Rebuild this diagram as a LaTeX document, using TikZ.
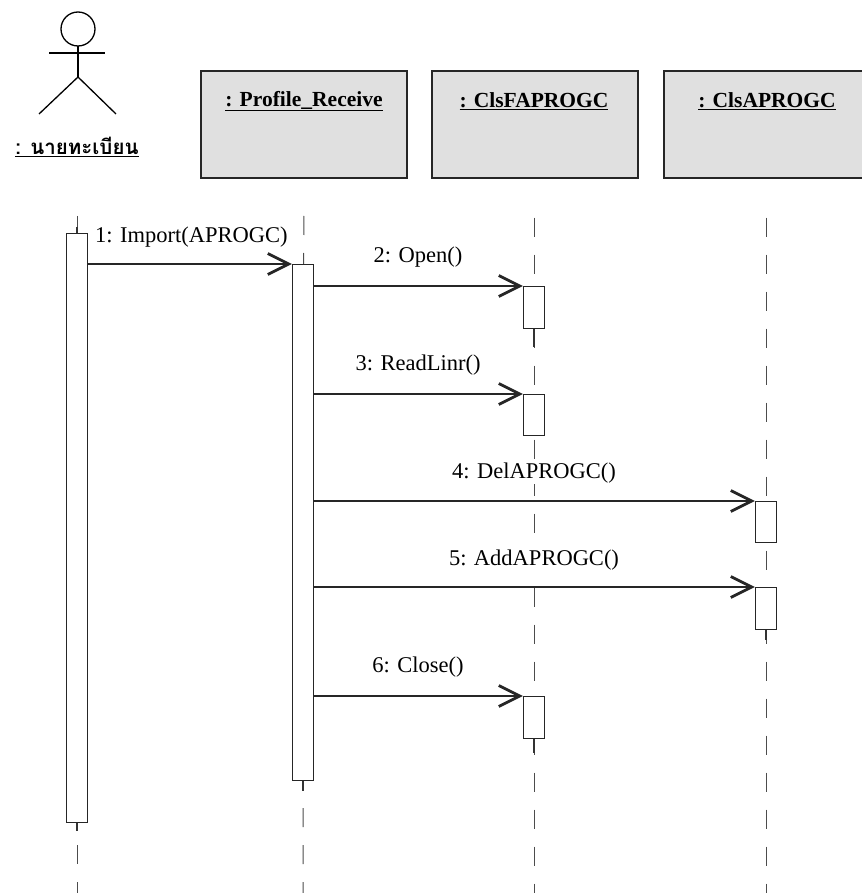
\documentclass[tikz,border=0pt]{standalone}
\usepackage{fontspec}
\setmainfont{Liberation Serif}
\newfontfamily\thaifont[Script=Thai]{Loma}
\usetikzlibrary{arrows.meta}
\begin{document}
\begin{tikzpicture}[x=1pt,y=-1pt,
  objbox/.style={draw=black!85,line width=1.6pt,fill=black!12,minimum width=206pt,minimum height=107pt,inner sep=0pt,anchor=north west},
  objlabel/.style={font=\fontsize{21.5}{24}\selectfont\bfseries,inner sep=0pt},
  lifeline/.style={draw=black!70,line width=1pt,dash pattern=on 19pt off 18pt,dash phase=19pt},
  act/.style={draw=black!85,fill=white,line width=1.2pt,minimum width=21pt,inner sep=0pt,anchor=north},
  msg/.style={draw=black!85,line width=1.2pt,-{Straight Barb[length=21pt,width=21pt,line width=2.8pt]}},
  msglabel/.style={font=\fontsize{22.5}{26}\selectfont,inner sep=1pt,fill=white},
  stub/.style={draw=black!80,line width=1.1pt}]
\useasboundingbox (0,0) rectangle (861,893);
% actor
\draw[line width=1.3pt] (78,29) circle (17);
\draw[line width=1.3pt] (78,46) -- (78,77) coordinate (hip);
\draw[line width=1.3pt] (49,53) -- (105,53);
\draw[line width=1.3pt] (39,114) -- (hip) -- (116,114);
\node[inner sep=0pt,font=\thaifont\bfseries\fontsize{20.5}{24}\selectfont] (actorlbl) at (77,147) {\underline{: นายทะเบียน}};
% object boxes
\node[objbox] (bprof) at (200,70) {};
\node[objbox] (bfa) at (431,70) {};
\node[objbox] (ba) at (663,70) {};
\node[objlabel] (lprof) at (304,101) {\underline{: Profile\_Receive}};
\node[objlabel] (lfa) at (534,101) {\underline{: ClsFAPROGC}};
\node[objlabel] (la) at (767,101) {\underline{: ClsAPROGC}};
% lifelines
\coordinate (endA) at (77,893);
\coordinate (endP) at (303,893);
\coordinate (endF) at (534,893);
\coordinate (endC) at (766,893);
\draw[lifeline] (77,198) -- (endA);
\draw[lifeline] (bprof.south |- 0,198) -- (endP);
\draw[lifeline] (bfa.south -| endF) ++(0,21) -- (endF);
\draw[lifeline] (ba.south -| endC) ++(0,21) -- (endC);
% activations
\node[act,minimum height=589pt] (aact) at (77,233) {};
\node[act,minimum height=516pt] (aprof) at (303,264) {};
\node[act,minimum height=42pt] (aopen) at (534,286) {};
\node[act,minimum height=41pt] (aread) at (534,394) {};
\node[act,minimum height=41pt] (adel) at (766,501) {};
\node[act,minimum height=42pt] (aadd) at (766,587) {};
\node[act,minimum height=42pt] (aclose) at (534,696) {};
% stubs
\draw[stub] (aact.north) ++(0,-6) -- (aact.north);
\draw[stub] (aact.south) -- ++(0,8);
\draw[stub] (aprof.south) -- ++(0,10);
\draw[stub] (aopen.south) -- ++(0,18);
\draw[stub] (aclose.south) -- ++(0,14);
\draw[stub] (aadd.south) -- ++(0,10);
% messages
\draw[msg] (aact.east |- aprof.north) -- (aprof.north west);
\draw[msg] (aprof.east |- aopen.north) -- (aopen.north west);
\draw[msg] (aprof.east |- aread.north) -- (aread.north west);
\draw[msg] (aprof.east |- adel.north) -- (adel.north west);
\draw[msg] (aprof.east |- aadd.north) -- (aadd.north west);
\draw[msg] (aprof.east |- aclose.north) -- (aclose.north west);
% labels
\node[msglabel,anchor=west] (m1) at (94,237) {1: Import(APROGC)};
\node[msglabel] (m2) at (418,257) {2: Open()};
\node[msglabel] (m3) at (418,365) {3: ReadLinr()};
\node[msglabel] (m4) at (534,473) {4: DelAPROGC()};
\node[msglabel] (m5) at (534,560) {5: AddAPROGC()};
\node[msglabel] (m6) at (418,667) {6: Close()};
\end{tikzpicture}
\end{document}
